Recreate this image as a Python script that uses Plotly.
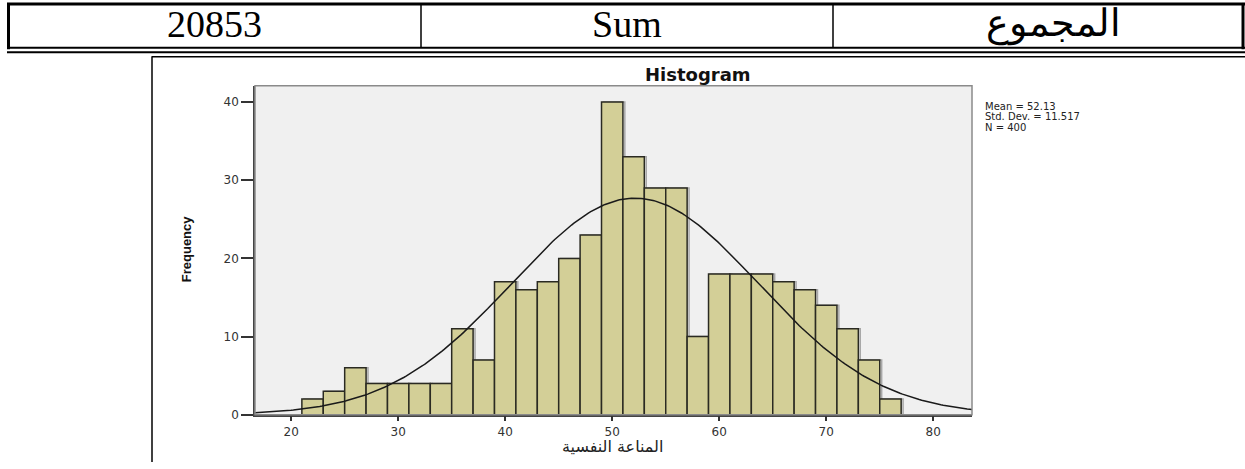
import numpy as np
import plotly.graph_objects as go

# ---- data ----
bin_starts = [21, 23, 25, 27, 29, 31, 33, 35, 37, 39, 41, 43, 45, 47,
              49, 51, 53, 55, 57, 59, 61, 63, 65, 67, 69, 71, 73, 75]
frequencies = [2, 3, 6, 4, 4, 4, 4, 11, 7, 17, 16, 17, 20, 23,
               40, 33, 29, 29, 10, 18, 18, 18, 17, 16, 14, 11, 7, 2]
bin_width = 2
stat_mean = 52.13
stat_sd = 11.517
stat_n = 400
x_ticks = [20, 30, 40, 50, 60, 70, 80]
y_ticks = [0, 10, 20, 30, 40]
table_cells = ["20853", "Sum", "المجموع"]

W, H = 1245, 469


def px(x):
    return x / W


def py(y):
    return 1 - y / H


centers = [s + bin_width / 2 for s in bin_starts]
xr = [16.62, 83.62]
curve_x = np.linspace(xr[0], xr[1], 300)
curve_y = stat_n * bin_width * np.exp(-0.5 * ((curve_x - stat_mean) / stat_sd) ** 2) / (stat_sd * np.sqrt(2 * np.pi))

fig = go.Figure()
# shadow
fig.add_trace(go.Bar(x=[c + 0.18 for c in centers], y=frequencies, width=bin_width,
                     marker=dict(color="rgba(0,0,0,0)", line=dict(color="rgba(80,80,80,0.45)", width=1.5)),
                     hoverinfo="skip", showlegend=False))
fig.add_trace(go.Bar(x=centers, y=frequencies, width=bin_width,
                     marker=dict(color="#D3CF97", line=dict(color="#2a2a22", width=1.5)),
                     showlegend=False))
fig.add_trace(go.Scatter(x=curve_x, y=curve_y, mode="lines",
                         line=dict(color="#1a1a1a", width=1.5), showlegend=False))

tickfont = dict(family="DejaVu Sans", size=12, color="#333")
fig.update_layout(
    width=W, height=H, margin=dict(l=0, r=0, t=0, b=0),
    paper_bgcolor="white", plot_bgcolor="#F0F0F0", barmode="overlay",
    xaxis=dict(domain=[px(255), px(972)], range=xr, tickvals=x_ticks,
               ticks="outside", ticklen=5, tickcolor="#333", tickwidth=1.5,
               showline=True, linecolor="#444", linewidth=1.5, showgrid=False, zeroline=False,
               tickfont=tickfont),
    yaxis=dict(domain=[py(421), py(87)], range=[0, 42.1], tickvals=y_ticks,
               ticks="outside", ticklen=12, tickcolor="#333", tickwidth=1.5,
               showline=True, linecolor="#444", linewidth=1.5, showgrid=False, zeroline=False,
               tickfont=tickfont),
    font=dict(family="Liberation Sans"),
)

shapes = []
# plot border (top/right)
shapes.append(dict(type="rect", xref="paper", yref="paper", x0=px(255), x1=px(972), y0=py(421), y1=py(87),
                   line=dict(color="#8a8a8a", width=1.5), layer="above"))
# table
blk = "black"
shapes.append(dict(type="line", xref="paper", yref="paper", x0=px(7), x1=px(1245), y0=py(4), y1=py(4), line=dict(color=blk, width=3)))
shapes.append(dict(type="line", xref="paper", yref="paper", x0=px(7), x1=px(1245), y0=py(48.5), y1=py(48.5), line=dict(color=blk, width=2)))
shapes.append(dict(type="line", xref="paper", yref="paper", x0=px(7), x1=px(1245), y0=py(53), y1=py(53), line=dict(color=blk, width=2)))
shapes.append(dict(type="line", xref="paper", yref="paper", x0=px(8.5), x1=px(8.5), y0=py(3), y1=py(50), line=dict(color=blk, width=3)))
shapes.append(dict(type="line", xref="paper", yref="paper", x0=px(421), x1=px(421), y0=py(4), y1=py(48), line=dict(color=blk, width=1.5)))
shapes.append(dict(type="line", xref="paper", yref="paper", x0=px(833), x1=px(833), y0=py(4), y1=py(48), line=dict(color=blk, width=1.5)))
shapes.append(dict(type="line", xref="paper", yref="paper", x0=px(1243), x1=px(1243), y0=py(3), y1=py(50), line=dict(color=blk, width=3)))
# chart frame
shapes.append(dict(type="line", xref="paper", yref="paper", x0=px(152), x1=px(1245), y0=py(57.5), y1=py(57.5), line=dict(color=blk, width=1.5)))
shapes.append(dict(type="line", xref="paper", yref="paper", x0=px(152), x1=px(152), y0=py(57), y1=py(469), line=dict(color=blk, width=1.5)))
fig.update_layout(shapes=shapes)

ann = []
serif = dict(family="Liberation Serif", size=38, color="black")
for txt, cx in zip(table_cells, [214, 627, 1053]):
    ann.append(dict(text=txt, x=px(cx), y=py(24), xref="paper", yref="paper", showarrow=False,
                    xanchor="center", yanchor="middle", font=serif))
ann.append(dict(text="<b>Histogram</b>", x=px(698), y=py(76), xref="paper", yref="paper", showarrow=False,
                xanchor="center", yanchor="middle", font=dict(family="DejaVu Sans", size=18, color="#111")))
ann.append(dict(text="<b>Frequency</b>", x=px(186), y=py(253), xref="paper", yref="paper", showarrow=False,
                textangle=-90, xanchor="center", yanchor="middle",
                font=dict(family="Liberation Sans", size=13, color="#111")))
ann.append(dict(text="المناعة النفسية", x=px(612), y=py(453), xref="paper", yref="paper", showarrow=False,
                xanchor="center", yanchor="middle", font=dict(family="DejaVu Sans", size=16, color="#222")))
stats = [f"Mean = {stat_mean:.2f}", f"Std. Dev. = {stat_sd:.3f}", f"N = {stat_n}"]
for i, s in enumerate(stats):
    ann.append(dict(text=s, x=px(983), y=py(108 + 10.5 * i), xref="paper", yref="paper", showarrow=False,
                    xanchor="left", yanchor="middle", font=dict(family="DejaVu Sans", size=10, color="#222")))
fig.update_layout(annotations=ann)

fig.write_html("out.html", config={"displayModeBar": False},
               post_script="document.body.style.margin='0';document.body.style.overflow='hidden';")
